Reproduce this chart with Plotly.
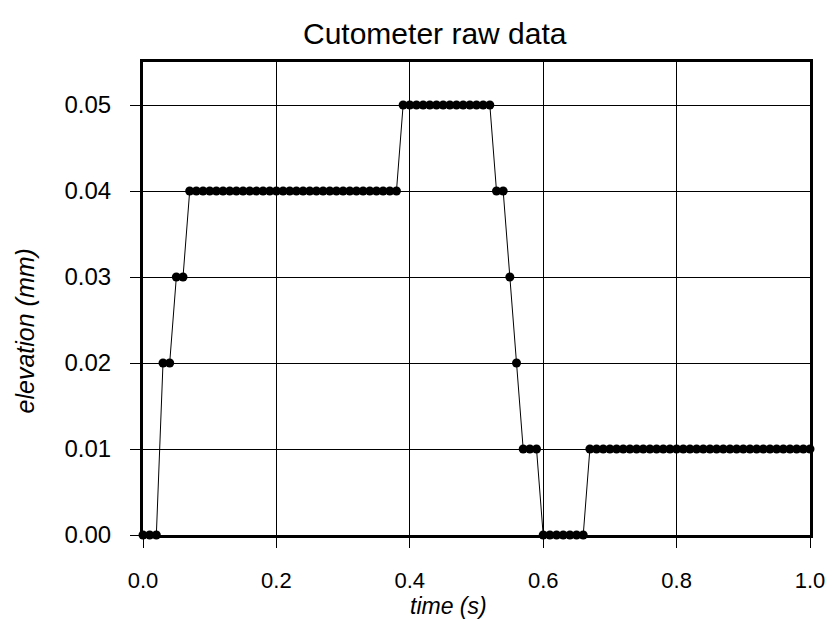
import plotly.graph_objects as go

# time (s) of each sample
time_s = [0.00, 0.01, 0.02, 0.03, 0.04, 0.05, 0.06, 0.07, 0.08, 0.09,
          0.10, 0.11, 0.12, 0.13, 0.14, 0.15, 0.16, 0.17, 0.18, 0.19,
          0.20, 0.21, 0.22, 0.23, 0.24, 0.25, 0.26, 0.27, 0.28, 0.29,
          0.30, 0.31, 0.32, 0.33, 0.34, 0.35, 0.36, 0.37, 0.38, 0.39,
          0.40, 0.41, 0.42, 0.43, 0.44, 0.45, 0.46, 0.47, 0.48, 0.49,
          0.50, 0.51, 0.52, 0.53, 0.54, 0.55, 0.56, 0.57, 0.58, 0.59,
          0.60, 0.61, 0.62, 0.63, 0.64, 0.65, 0.66, 0.67, 0.68, 0.69,
          0.70, 0.71, 0.72, 0.73, 0.74, 0.75, 0.76, 0.77, 0.78, 0.79,
          0.80, 0.81, 0.82, 0.83, 0.84, 0.85, 0.86, 0.87, 0.88, 0.89,
          0.90, 0.91, 0.92, 0.93, 0.94, 0.95, 0.96, 0.97, 0.98, 0.99,
          1.00]

# elevation (mm) of each sample
elevation_mm = [0.00, 0.00, 0.00, 0.02, 0.02, 0.03, 0.03, 0.04, 0.04, 0.04,
                0.04, 0.04, 0.04, 0.04, 0.04, 0.04, 0.04, 0.04, 0.04, 0.04,
                0.04, 0.04, 0.04, 0.04, 0.04, 0.04, 0.04, 0.04, 0.04, 0.04,
                0.04, 0.04, 0.04, 0.04, 0.04, 0.04, 0.04, 0.04, 0.04, 0.05,
                0.05, 0.05, 0.05, 0.05, 0.05, 0.05, 0.05, 0.05, 0.05, 0.05,
                0.05, 0.05, 0.05, 0.04, 0.04, 0.03, 0.02, 0.01, 0.01, 0.01,
                0.00, 0.00, 0.00, 0.00, 0.00, 0.00, 0.00, 0.01, 0.01, 0.01,
                0.01, 0.01, 0.01, 0.01, 0.01, 0.01, 0.01, 0.01, 0.01, 0.01,
                0.01, 0.01, 0.01, 0.01, 0.01, 0.01, 0.01, 0.01, 0.01, 0.01,
                0.01, 0.01, 0.01, 0.01, 0.01, 0.01, 0.01, 0.01, 0.01, 0.01,
                0.01]

x_ticks = [0.0, 0.2, 0.4, 0.6, 0.8, 1.0]
x_tick_labels = ["0.0", "0.2", "0.4", "0.6", "0.8", "1.0"]
y_ticks = [0.00, 0.01, 0.02, 0.03, 0.04, 0.05]
y_tick_labels = ["0.00", "0.01", "0.02", "0.03", "0.04", "0.05"]

FONT = "Liberation Sans, Arial, sans-serif"

fig = go.Figure()
fig.add_trace(go.Scatter(
    x=time_s, y=elevation_mm, mode="lines+markers",
    line=dict(color="black", width=1),
    marker=dict(color="black", size=9, symbol="circle"),
    cliponaxis=False, showlegend=False,
))

axis_common = dict(
    showline=True, linecolor="black", linewidth=3, mirror=True,
    showgrid=True, gridcolor="black", gridwidth=1,
    ticks="outside", ticklen=10, tickcolor="black", tickwidth=1,
    zeroline=False, layer="below traces", ticklabeloverflow="allow",
)

fig.update_xaxes(range=[0, 1.0], tickvals=x_ticks, ticktext=x_tick_labels,
                 tickfont=dict(family=FONT, size=22, color="black"),
                 ticklabelstandoff=14, **axis_common)
fig.update_yaxes(range=[0, 0.055], tickvals=y_ticks, ticktext=y_tick_labels,
                 tickfont=dict(family=FONT, size=24, color="black"),
                 ticklabelstandoff=14, **axis_common)

fig.add_annotation(text="Cutometer raw data", xref="paper", yref="paper",
                   x=0.4385, y=1.0613, xanchor="center", yanchor="middle",
                   showarrow=False, font=dict(family=FONT, size=30, color="black"))
fig.add_annotation(text="<i>time (s)</i>", xref="paper", yref="paper",
                   x=0.4578, y=-0.150, xanchor="center", yanchor="middle",
                   showarrow=False, font=dict(family=FONT, size=23, color="black"))
fig.add_annotation(text="<i>elevation (mm)</i>", xref="paper", yref="paper",
                   x=-0.1763, y=0.4313, xanchor="center", yanchor="middle",
                   textangle=-90, showarrow=False,
                   font=dict(family=FONT, size=25, color="black"))

fig.update_layout(
    width=829, height=611,
    margin=dict(l=135, r=16, t=54, b=84),
    paper_bgcolor="white", plot_bgcolor="white",
)

fig.write_html("out.html")
